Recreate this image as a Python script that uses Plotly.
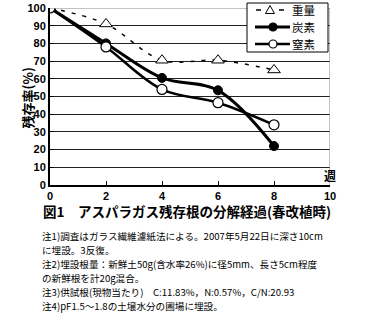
import plotly.graph_objects as go

weeks = [0, 2, 4, 6, 8]
weight = [100, 91, 70.5, 70.5, 65]
carbon = [100, 80, 60.5, 53.5, 22]
nitrogen = [100, 78, 54, 46.5, 34]
names = ["重量", "炭素", "窒素"]
x_ticks = [0, 2, 4, 6, 8, 10]
y_ticks = [0, 10, 20, 30, 40, 50, 60, 70, 80, 90, 100]

title_text = "図1　アスパラガス残存根の分解経過(春改植時)"
notes = [
    "注1)調査はガラス繊維濾紙法による。2007年5月22日に深さ10cm",
    "に埋設。3反復。",
    "注2)埋設根量：新鮮土50g(含水率26%)に径5mm、長さ5cm程度",
    "の新鮮根を計20g混合。",
    "注3)供試根(現物当たり)　C:11.83%，N:0.57%，C/N:20.93",
    "注4)pF1.5～1.8の土壌水分の圃場に埋設。",
]

JP = "Noto Sans CJK JP"
fig = go.Figure()
fig.add_trace(go.Scatter(
    x=weeks, y=weight, name=names[0], mode="lines+markers", showlegend=False,
    line=dict(color="black", width=1.5, dash="4px,7px", shape="spline"),
    marker=dict(symbol="triangle-up", size=11, color="white",
                line=dict(color="black", width=1)),
))
fig.add_trace(go.Scatter(
    x=weeks, y=carbon, name=names[1], mode="lines+markers", showlegend=False,
    line=dict(color="black", width=3, shape="spline"),
    marker=dict(symbol="circle", size=9, color="black",
                line=dict(color="black", width=1)),
))
fig.add_trace(go.Scatter(
    x=weeks, y=nitrogen, name=names[2], mode="lines+markers", showlegend=False,
    line=dict(color="black", width=2.5, shape="spline"),
    marker=dict(symbol="circle", size=10, color="white",
                line=dict(color="black", width=1.2)),
))

W, H = 374, 334
l, r, t, b = 50, 44, 8, 149
fig.update_layout(
    width=W, height=H,
    margin=dict(l=l, r=r, t=t, b=b, autoexpand=False),
    paper_bgcolor="white", plot_bgcolor="white",
    font=dict(family=JP, color="black"),
    showlegend=False,
    xaxis=dict(range=[0, 10], tickvals=x_ticks, showgrid=False,
               showline=True, linecolor="black", linewidth=2,
               ticks="inside", ticklen=4, tickcolor="black", tickwidth=1,
               tickfont=dict(family="Liberation Sans", size=11, weight="bold"),
               zeroline=False, mirror=False, automargin=False),
    yaxis=dict(range=[0, 100], tickvals=y_ticks, showgrid=True,
               gridcolor="#222", gridwidth=1,
               showline=True, linecolor="black", linewidth=2,
               ticks="inside", ticklen=4, tickcolor="black",
               tickfont=dict(family="Liberation Sans", size=11, weight="bold"),
               zeroline=False, automargin=False),
)
# gray frame on top and right
fig.add_shape(type="line", xref="x", yref="y", x0=10, x1=10, y0=0, y1=100,
              line=dict(color="#888", width=1))
fig.add_shape(type="line", xref="x", yref="y", x0=0, x1=10, y0=100, y1=100,
              line=dict(color="#888", width=1))

def py(ypix):
    return 1 - (ypix - t) / (H - t - b)
def px(xpix):
    return (xpix - l) / (W - l - r)

# ---- hand-drawn legend (to match compact reference box) ----
fig.add_shape(type="rect", xref="paper", yref="paper",
              x0=px(247), x1=px(328), y0=py(3), y1=py(52),
              line=dict(color="black", width=1), fillcolor="white", layer="above")
rows = [10, 27, 44]
# 重量: short dashes + open triangle
for xa, xb in [(256, 261), (279, 284)]:
    fig.add_shape(type="line", xref="paper", yref="paper",
                  x0=px(xa), x1=px(xb), y0=py(rows[0]), y1=py(rows[0]),
                  line=dict(color="black", width=1.5), layer="above")
fig.add_shape(type="path", xref="paper", yref="paper",
              xsizemode="pixel", ysizemode="pixel",
              xanchor=px(270), yanchor=py(rows[0]),
              path="M-4.5,-3.5 L4.5,-3.5 L0,4.5 Z",
              line=dict(color="black", width=1), fillcolor="white", layer="above")
# 炭素 / 窒素: solid line + circle
for row, fill, lw in [(rows[1], "black", 3), (rows[2], "white", 2.5)]:
    fig.add_shape(type="line", xref="paper", yref="paper",
                  x0=px(255), x1=px(290), y0=py(row), y1=py(row),
                  line=dict(color="black", width=lw), layer="above")
    fig.add_shape(type="circle", xref="paper", yref="paper",
                  xsizemode="pixel", ysizemode="pixel",
                  xanchor=px(273), yanchor=py(row),
                  x0=-4, x1=4, y0=-4, y1=4,
                  line=dict(color="black", width=1.2), fillcolor=fill, layer="above")
for name, row in zip(names, rows):
    fig.add_annotation(text=name, xref="paper", yref="paper",
                       x=px(291), y=py(row), xanchor="left", yanchor="middle",
                       showarrow=False, borderpad=0,
                       font=dict(family=JP, size=11.5))

fig.add_annotation(text="残存率(%)", xref="paper", yref="paper",
                   x=px(15), y=py(98), textangle=-90, showarrow=False,
                   font=dict(family=JP, size=13, weight="bold"))
fig.add_annotation(text="週", xref="paper", yref="paper",
                   x=px(338), y=py(186), showarrow=False,
                   font=dict(family=JP, size=12, weight="bold"))
fig.add_annotation(text=title_text, xref="paper", yref="paper",
                   x=px(187), y=py(223), showarrow=False,
                   font=dict(family=JP, size=13.5, weight="bold"))
for i, line in enumerate(notes):
    fig.add_annotation(text=line, xref="paper", yref="paper",
                       x=px(41), y=py(236 + i * 14), xanchor="left",
                       yanchor="middle", align="left", showarrow=False,
                       borderpad=0, font=dict(family=JP, size=9.6))

fig.write_html("out.html")
